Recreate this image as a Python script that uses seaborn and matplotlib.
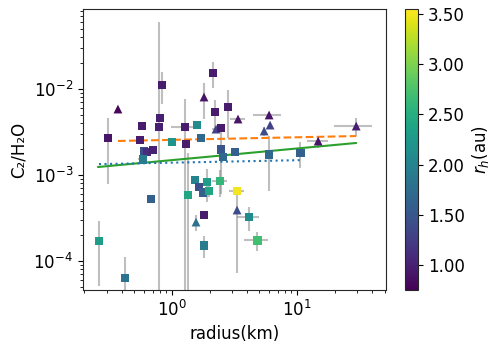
"""C2/H2O vs radius, coloured by heliocentric distance."""
import matplotlib
matplotlib.use("Agg")
import matplotlib.pyplot as plt
import numpy as np
import pandas as pd
import seaborn as sns

# radius (km), C2/H2O, r_h (au), marker shape, errors
radius = [0.308, 0.370, 0.575, 0.555, 0.597, 0.631, 0.705, 0.586, 0.802, 0.787,
          0.832, 1.00, 1.27, 1.294, 1.585, 1.706, 1.803, 2.128, 2.208, 2.249,
          2.466, 2.805, 2.466, 2.559, 3.19, 3.37, 5.97, 6.08, 5.45, 5.97,
          10.57, 14.72, 29.65, 0.261, 0.421, 0.679, 1.343, 1.528, 1.644, 1.77,
          1.905, 1.977, 2.421, 1.556, 1.803, 1.803, 3.31, 3.31, 4.13, 4.79]
ratio = [0.00269, 0.00585, 0.00371, 0.00255, 0.00190, 0.00185, 0.00195, 0.00153, 0.00460, 0.00361,
         0.01113, 0.00242, 0.00361, 0.00229, 0.00381, 0.00269, 0.00807, 0.01535, 0.00540, 0.00342,
         0.00352, 0.00618, 0.00200, 0.00162, 0.00185, 0.00448, 0.00499, 0.00381, 0.00325, 0.00175,
         0.00180, 0.00248, 0.00371, 0.000171, 0.0000634, 0.000526, 0.000585, 0.000875, 0.000725, 0.000633,
         0.00083, 0.000652, 0.000852, 0.000284, 0.000343, 0.000153, 0.000652, 0.000392, 0.000325, 0.000175]
rh = [0.9, 0.8, 0.95, 0.95, 1.4, 1.1, 1.0, 1.9, 1.0, 1.0,
      0.95, 2.2, 0.95, 0.95, 2.1, 1.7, 0.9, 0.95, 0.95, 1.3,
      0.95, 0.95, 1.5, 1.7, 1.6, 0.9, 0.9, 1.3, 1.4, 1.7,
      1.6, 0.9, 1.0, 2.3, 1.8, 1.6, 2.4, 2.0, 1.4, 1.6,
      2.3, 2.4, 2.6, 1.8, 0.95, 1.9, 3.5, 1.4, 2.1, 2.7]
shape = ["s", "^", "s", "s", "s", "s", "s", "s", "s", "s",
         "s", "s", "s", "s", "s", "s", "^", "s", "s", "^",
         "s", "s", "s", "s", "s", "^", "^", "^", "^", "s",
         "s", "^", "^", "s", "s", "s", "s", "s", "s", "s",
         "s", "s", "s", "^", "s", "s", "s", "^", "s", "s"]
radius_err = [0, 0, 0, 0, 0, 0, 0, 0.05, 0, 0,
              0, 0, 0.28, 0, 0, 0, 0, 0, 0, 0.15,
              0, 0, 0, 0, 0, 0.46, 1.5, 0, 0, 0,
              0.5, 2.8, 10.0, 0, 0, 0, 0, 0, 0, 0,
              0, 0, 0.35, 0, 0, 0, 0.45, 0, 0.83, 1.05]
ratio_err = [0.0019, 0, 0, 0, 0, 0, 0, 0, 0, 0.056,
             0.0045, 0, 0.004, 0, 0, 0, 0.0036, 0.0052, 0.002, 0,
             0, 0.0035, 0.0014, 0, 0, 0, 0, 0, 0.0004, 0.0011,
             0.0006, 0.0004, 0.00085, 0.00012, 0.000048, 0.00005, 0.0012, 0, 0, 0,
             0.00035, 0.0001, 0.0003, 0.00006, 0, 0.000045, 0, 0.00032, 0.0001, 0.000045]

# power-law fits (end points): triangles, squares, all
fit_tri_x = [0.37, 29.65]
fit_tri_y = [0.00249, 0.00284]
fit_sq_x = [0.261, 10.57]
fit_sq_y = [0.00134, 0.00149]
fit_all_x = [0.256, 29.65]
fit_all_y = [0.00124, 0.00236]

RH_MIN, RH_MAX = 0.75, 3.55

df = pd.DataFrame({"radius": radius, "ratio": ratio, "rh": rh, "shape": shape,
                   "xerr": radius_err, "yerr": ratio_err})

sns.set_style("ticks")
plt.rcParams["font.family"] = ["DejaVu Sans"]
plt.rcParams["font.size"] = 12
for key in ("text.color", "axes.labelcolor", "xtick.color", "ytick.color"):
    plt.rcParams[key] = "black"

fig = plt.figure(figsize=(4.99, 3.47), dpi=100)
ax = fig.add_axes([0.166, 0.164, 0.608, 0.810])
cax = fig.add_axes([0.812, 0.164, 0.026, 0.810])

ax.errorbar(df["radius"], df["ratio"], xerr=df["xerr"], yerr=df["yerr"],
            fmt="none", ecolor="grey", alpha=0.5, elinewidth=1.5, zorder=1)

ax.plot(fit_tri_x, fit_tri_y, ls="--", color="tab:orange", lw=1.5, zorder=2)
ax.plot(fit_all_x, fit_all_y, ls="-", color="tab:green", lw=1.5, zorder=2)
ax.plot(fit_sq_x, fit_sq_y, ls=":", color="tab:blue", lw=1.5, zorder=2)

sns.scatterplot(data=df, x="radius", y="ratio", hue="rh", style="shape",
                markers={"s": "s", "^": "^"}, palette="viridis",
                hue_norm=(RH_MIN, RH_MAX), s=40, linewidth=0,
                legend=False, ax=ax, zorder=3)

ax.set_xscale("log")
ax.set_yscale("log")
ax.set_xlim(0.194, 51.5)
ax.set_ylim(4.6e-5, 0.0851)
ax.set_xlabel("radius(km)")
ax.set_ylabel("C₂/H₂O")

sm = plt.cm.ScalarMappable(cmap="viridis", norm=plt.Normalize(RH_MIN, RH_MAX))
cb = fig.colorbar(sm, cax=cax, format="%.2f")
cb.set_ticks([1.0, 1.5, 2.0, 2.5, 3.0, 3.5])
cb.set_label("$r_h$(au)")

fig.savefig("out.png", dpi=100)
